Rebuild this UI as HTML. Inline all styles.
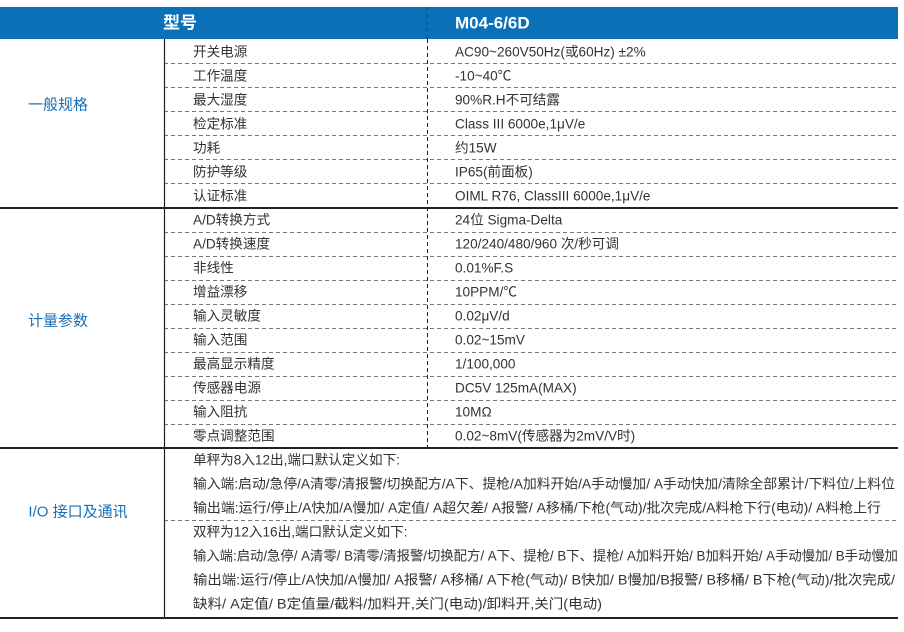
<!DOCTYPE html>
<html><head><meta charset="utf-8"><style>
html,body{margin:0;padding:0;background:#fff;}
svg{display:block;}
text{font-family:"Liberation Sans","Noto Sans CJK SC",sans-serif;font-size:13.6px;fill:#333;dominant-baseline:central;}
.c{fill:#1a6fb5;font-size:15px;}
.h{fill:#fff;font-weight:bold;font-size:17px;}
</style></head><body>
<svg width="904" height="632" viewBox="0 0 904 632" xmlns="http://www.w3.org/2000/svg">
<rect x="0" y="7" width="898" height="32" fill="#0a70b8"/>
<line x1="427" y1="7" x2="427" y2="39" stroke="#0a4f80" stroke-width="1" stroke-dasharray="4,3"/>
<text class="h" x="180" y="23" text-anchor="middle">型号</text>
<text class="h" x="455" y="23">M04-6/6D</text>
<g stroke="#777" stroke-width="1" stroke-dasharray="4,3">
<line x1="164" y1="63.5" x2="898" y2="63.5"/><line x1="164" y1="87.5" x2="898" y2="87.5"/>
<line x1="164" y1="111.5" x2="898" y2="111.5"/><line x1="164" y1="135.5" x2="898" y2="135.5"/>
<line x1="164" y1="159.5" x2="898" y2="159.5"/><line x1="164" y1="183.5" x2="898" y2="183.5"/>
<line x1="164" y1="232.5" x2="898" y2="232.5"/><line x1="164" y1="256.5" x2="898" y2="256.5"/>
<line x1="164" y1="280.5" x2="898" y2="280.5"/><line x1="164" y1="304.5" x2="898" y2="304.5"/>
<line x1="164" y1="328.5" x2="898" y2="328.5"/><line x1="164" y1="352.5" x2="898" y2="352.5"/>
<line x1="164" y1="376.5" x2="898" y2="376.5"/><line x1="164" y1="400.5" x2="898" y2="400.5"/>
<line x1="164" y1="424.5" x2="898" y2="424.5"/><line x1="164" y1="520.5" x2="898" y2="520.5"/>
<line x1="427.5" y1="39" x2="427.5" y2="448" stroke="#222"/>
</g>
<g stroke="#222">
<line x1="164.5" y1="39" x2="164.5" y2="618" stroke-width="1.2"/>
<line x1="0" y1="208" x2="898" y2="208" stroke-width="2"/>
<line x1="0" y1="448" x2="898" y2="448" stroke-width="2"/>
<line x1="0" y1="618" x2="898" y2="618" stroke-width="2"/>
</g>
<text class="c" x="58" y="105" text-anchor="middle">一般规格</text>
<text class="c" x="58" y="321" text-anchor="middle">计量参数</text>
<text class="c" x="78" y="512" text-anchor="middle">I/O 接口及通讯</text>
<text x="193" y="52">开关电源</text><text x="455" y="52">AC90~260V50Hz(或60Hz) ±2%</text>
<text x="193" y="76">工作温度</text><text x="455" y="76">-10~40℃</text>
<text x="193" y="100">最大湿度</text><text x="455" y="100">90%R.H不可结露</text>
<text x="193" y="124">检定标准</text><text x="455" y="124">Class III 6000e,1μV/e</text>
<text x="193" y="148">功耗</text><text x="455" y="148">约15W</text>
<text x="193" y="172">防护等级</text><text x="455" y="172">IP65(前面板)</text>
<text x="193" y="196">认证标准</text><text x="455" y="196">OIML R76, ClassIII 6000e,1μV/e</text>
<text x="193" y="220">A/D转换方式</text><text x="455" y="220">24位 Sigma-Delta</text>
<text x="193" y="244">A/D转换速度</text><text x="455" y="244">120/240/480/960 次/秒可调</text>
<text x="193" y="268">非线性</text><text x="455" y="268">0.01%F.S</text>
<text x="193" y="292">增益漂移</text><text x="455" y="292">10PPM/℃</text>
<text x="193" y="316">输入灵敏度</text><text x="455" y="316">0.02μV/d</text>
<text x="193" y="340">输入范围</text><text x="455" y="340">0.02~15mV</text>
<text x="193" y="364">最高显示精度</text><text x="455" y="364">1/100,000</text>
<text x="193" y="388">传感器电源</text><text x="455" y="388">DC5V 125mA(MAX)</text>
<text x="193" y="412">输入阻抗</text><text x="455" y="412">10MΩ</text>
<text x="193" y="436">零点调整范围</text><text x="455" y="436">0.02~8mV(传感器为2mV/V时)</text>
<text x="193" y="460">单秤为8入12出,端口默认定义如下:</text>
<text x="193" y="484" textLength="702" lengthAdjust="spacingAndGlyphs">输入端:启动/急停/A清零/清报警/切换配方/A下、提枪/A加料开始/A手动慢加/ A手动快加/清除全部累计/下料位/上料位</text>
<text x="193" y="508" textLength="688" lengthAdjust="spacingAndGlyphs">输出端:运行/停止/A快加/A慢加/ A定值/ A超欠差/ A报警/ A移桶/下枪(气动)/批次完成/A料枪下行(电动)/ A料枪上行</text>
<text x="193" y="532">双秤为12入16出,端口默认定义如下:</text>
<text x="193" y="556" textLength="705" lengthAdjust="spacingAndGlyphs">输入端:启动/急停/ A清零/ B清零/清报警/切换配方/ A下、提枪/ B下、提枪/ A加料开始/ B加料开始/ A手动慢加/ B手动慢加</text>
<text x="193" y="580" textLength="702" lengthAdjust="spacingAndGlyphs">输出端:运行/停止/A快加/A慢加/ A报警/ A移桶/ A下枪(气动)/ B快加/ B慢加/B报警/ B移桶/ B下枪(气动)/批次完成/</text>
<text x="193" y="604" textLength="409" lengthAdjust="spacingAndGlyphs">缺料/ A定值/ B定值量/截料/加料开,关门(电动)/卸料开,关门(电动)</text>
</svg>
</body></html>
